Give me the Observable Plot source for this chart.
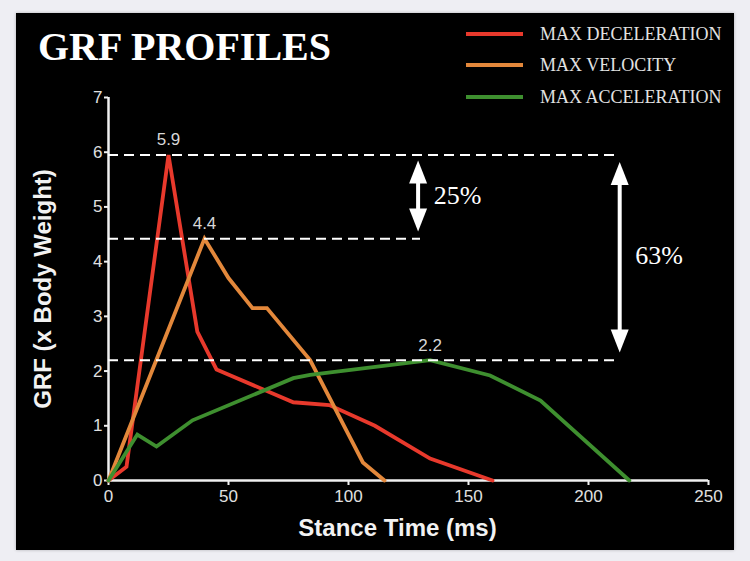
<!DOCTYPE html>
<html>
<head>
<meta charset="utf-8">
<script src="https://cdn.jsdelivr.net/npm/d3@7"></script>
<script src="https://cdn.jsdelivr.net/npm/@observablehq/plot@0.6"></script>
<style>
  html, body { margin: 0; padding: 0; background: #eeeef3; }
  #wrap { position: relative; width: 750px; height: 561px; overflow: hidden; }
  #panel { position: absolute; left: 16px; top: 13px; width: 718px; height: 537px; background: #000; box-shadow: 0 0 3px rgba(0,0,0,0.25); }
  #title { position: absolute; left: 38px; top: 27px; font-family: "Liberation Serif", "DejaVu Serif", serif; font-weight: bold; font-size: 40px; line-height: 40px; color: #fff; white-space: nowrap; }
  #legend .row { position: absolute; left: 466px; height: 20px; display: flex; align-items: center; }
  #legend .sw { width: 57px; height: 4px; margin-right: 17px; }
  #legend .lab { font-family: "Liberation Serif", "DejaVu Serif", serif; font-size: 18px; color: #e2e2e2; white-space: nowrap; }
  #chart { position: absolute; left: 0; top: 0; }
</style>
</head>
<body>
<div id="wrap">
  <div id="panel"></div>
  <div id="title">GRF PROFILES</div>
  <div id="legend"></div>
  <div id="chart"></div>
</div>
<script>
// ---- data ----
const seriesNames = ["MAX DECELERATION", "MAX VELOCITY", "MAX ACCELERATION"];
const seriesColors = ["#e8392c", "#e3883b", "#3e8f2f"];

const decelTime = [0, 7.5, 25, 37, 45, 77, 92, 111, 134, 160];
const decelGRF  = [0, 0.25, 5.95, 2.72, 2.03, 1.43, 1.38, 1.0, 0.4, 0];

const veloTime = [0, 40, 50, 60, 66, 84, 106, 115];
const veloGRF  = [0, 4.42, 3.7, 3.15, 3.15, 2.2, 0.33, 0];

const accelTime = [0, 12, 20, 35, 77, 84, 134, 159, 180, 217];
const accelGRF  = [0, 0.84, 0.62, 1.1, 1.87, 1.93, 2.2, 1.92, 1.46, 0];

const xTicks = [0, 50, 100, 150, 200, 250];
const yTicks = [0, 1, 2, 3, 4, 5, 6, 7];

// peak annotations
const peakTime  = [25, 40, 134];
const peakValue = [5.95, 4.42, 2.2];
const peakLabel = ["5.9", "4.4", "2.2"];
const peakRuleEnd = [213, 130, 213];

// difference arrows
const arrowX      = [129, 213];
const arrowTop    = [5.85, 5.82];
const arrowBottom = [4.55, 2.34];
const pctLabel    = ["25%", "63%"];
const pctX        = [135.5, 219.5];
const pctY        = [5.2, 4.1];

// ---- tables ----
const lineData = [
  ...decelTime.map((t, i) => ({t, v: decelGRF[i], s: seriesNames[0]})),
  ...veloTime.map((t, i) => ({t, v: veloGRF[i], s: seriesNames[1]})),
  ...accelTime.map((t, i) => ({t, v: accelGRF[i], s: seriesNames[2]}))
];
const peaks = peakTime.map((t, i) => ({t, v: peakValue[i], label: peakLabel[i], end: peakRuleEnd[i]}));
const arrows = arrowX.map((x, i) => ({x, top: arrowTop[i], bottom: arrowBottom[i], label: pctLabel[i], lx: pctX[i], ly: pctY[i]}));

const headW = 9, headH = 23;
const upHead = { draw(ctx) { ctx.moveTo(0, 0); ctx.lineTo(headW, headH); ctx.lineTo(-headW, headH); ctx.closePath(); } };
const downHead = { draw(ctx) { ctx.moveTo(0, 0); ctx.lineTo(headW, -headH); ctx.lineTo(-headW, -headH); ctx.closePath(); } };

const sans = "'Liberation Sans', Arial, Helvetica, sans-serif";
const serif = "'Liberation Serif', 'Times New Roman', serif";

const chart = Plot.plot({
  width: 750,
  height: 561,
  marginLeft: 108,
  marginRight: 42,
  marginTop: 97,
  marginBottom: 81,
  style: { background: "transparent", color: "#e0e0e0", fontFamily: sans, fontSize: "17px" },
  x: { domain: [0, 250] },
  y: { domain: [0, 7] },
  color: { domain: seriesNames, range: seriesColors },
  marks: [
    Plot.axisX({ ticks: xTicks, tickFormat: d3.format("d"), tickSize: 5, tickPadding: 4, strokeWidth: 2, stroke: "#f0f0f0", fill: "#e0e0e0", fontSize: 17, label: null }),
    Plot.axisY({ ticks: yTicks, tickFormat: d3.format("d"), tickSize: 4, tickPadding: 2, strokeWidth: 2, stroke: "#f0f0f0", fill: "#e0e0e0", fontSize: 17, label: null }),
    Plot.ruleX([0], { stroke: "#f0f0f0", strokeWidth: 2.5 }),
    Plot.ruleY([0], { stroke: "#f0f0f0", strokeWidth: 2.5 }),
    Plot.line(lineData, { x: "t", y: "v", z: "s", stroke: "s", strokeWidth: 3.8, strokeLinejoin: "miter", strokeMiterlimit: 3 }),
    Plot.ruleY(peaks, { y: "v", x1: 0, x2: "end", stroke: "#fff", strokeWidth: 2, strokeDasharray: "10,6" }),
    Plot.text(peaks, { x: "t", y: "v", text: "label", dy: -15, fill: "#d8d8d8", fontSize: 17, fontFamily: sans }),
    Plot.ruleX(arrows, { x: "x", y1: "top", y2: "bottom", stroke: "#fff", strokeWidth: 4, insetTop: 10, insetBottom: 10 }),
    Plot.dot(arrows, { x: "x", y: "top", symbol: upHead, fill: "#fff", stroke: "none" }),
    Plot.dot(arrows, { x: "x", y: "bottom", symbol: downHead, fill: "#fff", stroke: "none" }),
    Plot.text(arrows, { x: "lx", y: "ly", text: "label", textAnchor: "start", fill: "#fff", fontSize: 26, fontFamily: serif }),
    Plot.text(["GRF (x Body Weight)"], { frameAnchor: "left", textAnchor: "middle", dx: -65, rotate: -90, fill: "#f2f2f2", fontSize: 24, fontWeight: "bold", fontFamily: sans }),
    Plot.text(["Stance Time (ms)"], { frameAnchor: "bottom", textAnchor: "middle", dx: -11, dy: 55, fill: "#f2f2f2", fontSize: 24, fontWeight: "bold", fontFamily: sans })
  ]
});
document.getElementById("chart").appendChild(chart);

// legend
const legend = document.getElementById("legend");
const legendY = [34, 65, 97];
seriesNames.forEach((name, i) => {
  const row = document.createElement("div");
  row.className = "row";
  row.style.top = (legendY[i] - 10) + "px";
  const sw = document.createElement("div");
  sw.className = "sw";
  sw.style.background = seriesColors[i];
  const lab = document.createElement("div");
  lab.className = "lab";
  lab.textContent = name;
  row.appendChild(sw);
  row.appendChild(lab);
  legend.appendChild(row);
});
</script>
</body>
</html>
